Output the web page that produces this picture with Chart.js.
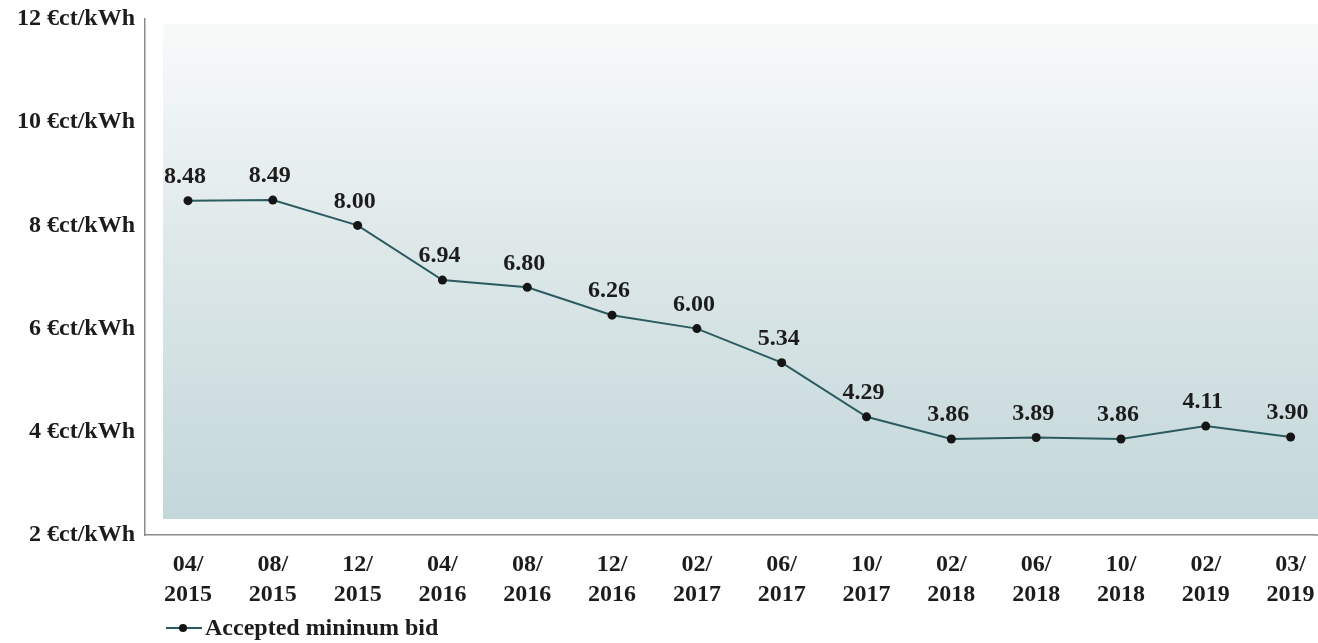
<!DOCTYPE html>
<html>
<head>
<meta charset="utf-8">
<script src="https://cdn.jsdelivr.net/npm/chart.js@4/dist/chart.umd.min.js"></script>
<style>
  html, body { margin: 0; padding: 0; background: #fff; }
  #wrap { position: relative; width: 1318px; height: 643px; }
  #legend {
    position: absolute; left: 166px; top: 614px;
    font: bold 24px "Liberation Serif", serif; color: #1c1c1c;
    display: flex; align-items: center;
  }
  #legend .mark { position: relative; width: 36px; height: 12px; margin-right: 3px; }
  #legend .mark::before { content: ''; position: absolute; left: 0; right: 0; top: 5px; height: 2px; background: #2b5b60; }
  #legend .mark::after { content: ''; position: absolute; left: 13px; top: 2px; width: 8px; height: 8px; border-radius: 50%; background: #151515; }
</style>
</head>
<body>
<div id="wrap">
  <canvas id="bidChart" width="1318" height="643"></canvas>
  <div id="legend"><span class="mark"></span>Accepted mininum bid</div>
</div>
<script>
// accepted minimum bids per auction round
const roundLabels = [
    ['04/', '2015'], ['08/', '2015'], ['12/', '2015'], ['04/', '2016'],
    ['08/', '2016'], ['12/', '2016'], ['02/', '2017'], ['06/', '2017'],
    ['10/', '2017'], ['02/', '2018'], ['06/', '2018'], ['10/', '2018'],
    ['02/', '2019'], ['03/', '2019']
];
const minBids = [8.48, 8.49, 8.00, 6.94, 6.80, 6.26, 6.00, 5.34, 4.29, 3.86, 3.89, 3.86, 4.11, 3.90];
const yTicks = [2, 4, 6, 8, 10, 12];

const FONT = { family: '"Liberation Serif", serif', size: 24, weight: 'bold' };
const TEXT = '#1c1c1c';

// soft teal gradient panel behind the line
const panelBackground = {
    id: 'panelBackground',
    beforeDatasetsDraw(chart) {
        const { ctx, chartArea } = chart;
        const x0 = chartArea.left + 18, x1 = chart.width;
        const y0 = chartArea.top + 5, y1 = chartArea.bottom - 16;
        const grad = ctx.createLinearGradient(0, y0, 0, y1);
        grad.addColorStop(0, '#f8fafa');
        grad.addColorStop(0.5, '#dbe6e7');
        grad.addColorStop(1, '#c3d7da');
        ctx.save();
        ctx.fillStyle = grad;
        ctx.fillRect(x0, y0, x1 - x0, y1 - y0);
        // baseline runs on to the page edge
        ctx.strokeStyle = '#8a8a8a';
        ctx.lineWidth = 1.5;
        ctx.beginPath();
        ctx.moveTo(chartArea.right, chartArea.bottom);
        ctx.lineTo(chart.width, chartArea.bottom);
        ctx.stroke();
        ctx.restore();
    }
};

// value labels above each point
const valueLabels = {
    id: 'valueLabels',
    afterDatasetsDraw(chart) {
        const { ctx } = chart;
        const meta = chart.getDatasetMeta(0);
        ctx.save();
        ctx.font = `bold ${FONT.size}px ${FONT.family}`;
        ctx.fillStyle = TEXT;
        ctx.textAlign = 'center';
        ctx.textBaseline = 'bottom';
        meta.data.forEach((pt, i) => {
            ctx.fillText(minBids[i].toFixed(2), pt.x - 3, pt.y - 12);
        });
        ctx.restore();
    }
};

const ctx = document.getElementById('bidChart').getContext('2d');
new Chart(ctx, {
    type: 'line',
    data: {
        datasets: [{
            label: 'Accepted mininum bid',
            data: minBids.map((v, i) => ({ x: i, y: v })),
            borderColor: '#2b5b60',
            borderWidth: 2,
            pointRadius: 4.5,
            pointBackgroundColor: '#151515',
            pointBorderWidth: 0,
            tension: 0
        }]
    },
    options: {
        responsive: false,
        animation: false,
        layout: { padding: { top: 19, right: 0, left: 0, bottom: 0 } },
        plugins: { legend: { display: false }, tooltip: { enabled: false } },
        scales: {
            x: {
                type: 'linear',
                min: -0.507,
                max: 13.27,
                afterFit: s => { s.height = 108; s.paddingLeft = 0; s.paddingRight = 0; },
                afterBuildTicks: s => { s.ticks = roundLabels.map((_, i) => ({ value: i })); },
                grid: { display: false, drawTicks: false },
                border: { display: true, color: '#8a8a8a', width: 1.5 },
                ticks: {
                    autoSkip: false,
                    maxRotation: 0,
                    padding: 15,
                    color: TEXT,
                    font: { ...FONT, lineHeight: 1.25 },
                    callback: v => roundLabels[v]
                }
            },
            y: {
                min: 2,
                max: 12,
                afterFit: s => { s.width = 145; s.paddingTop = 0; s.paddingBottom = 0; },
                afterBuildTicks: s => { s.ticks = yTicks.map(v => ({ value: v })); },
                grid: { display: false, drawTicks: false },
                border: { display: true, color: '#8a8a8a', width: 1.5 },
                ticks: {
                    padding: 10,
                    color: TEXT,
                    font: FONT,
                    callback: v => v + ' €ct/kWh'
                }
            }
        }
    },
    plugins: [panelBackground, valueLabels]
});
</script>
</body>
</html>
